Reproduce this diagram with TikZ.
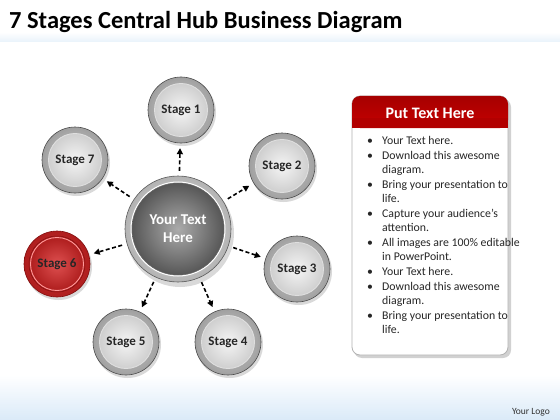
\documentclass[tikz,border=0pt]{standalone}
\usepackage{fontspec}
\setmainfont{Carlito}
\usetikzlibrary{arrows.meta,shadows}
\definecolor{bandblue}{RGB}{218,234,248}
\definecolor{redA}{RGB}{222,80,80}
\definecolor{redB}{RGB}{175,30,30}
\definecolor{redC}{RGB}{200,45,45}
\definecolor{redD}{RGB}{130,15,15}
\tikzset{
  stagenode/.style={circle,minimum size=66pt,inner sep=0pt,font=\bfseries\fontsize{13}{15}\selectfont,text=black!85},
  hubnode/.style={circle,minimum size=106pt,inner sep=0pt,align=center,font=\bfseries\fontsize{15}{18}\selectfont,text=white},
  conn/.style={line width=1.6pt,dash pattern=on 4pt off 2.5pt,-{Triangle[length=6pt,width=6pt]},shorten <=5pt,shorten >=5pt},
  bodytext/.style={font=\fontsize{11.8}{14.5}\selectfont,anchor=base west,inner sep=0pt,text=black!85},
  bulletdot/.style={font=\fontsize{11.8}{14.5}\selectfont,anchor=base,inner sep=0pt,text=black!85}
}
\newcommand\graystage[2]{%
  \fill[black!15] (#1)++(1.5,2.5) circle (33.5);
  \shade[inner color=gray!30,outer color=gray!75] (#1) circle (33);
  \draw[gray!60!black,line width=0.6pt] (#1) circle (33);
  \shade[inner color=gray!8,outer color=gray!38] (#1) circle (26.5);
  \draw[white!75!gray,line width=0.9pt] (#1) circle (26.5);
  \draw[gray!70,line width=0.5pt] (#1) circle (28);
  \node[stagenode] (#2) at (#1) {};
}
\newcommand\redstage[2]{%
  \fill[black!15] (#1)++(1.5,2.5) circle (33.5);
  \shade[inner color=redC,outer color=redB] (#1) circle (33);
  \draw[redD,line width=0.6pt] (#1) circle (33);
  \shade[inner color=redA,outer color=redB] (#1) circle (26.5);
  \draw[red!40!white,line width=0.9pt] (#1) circle (26.5);
  \draw[redD,line width=0.5pt] (#1) circle (28);
  \node[stagenode] (#2) at (#1) {};
}
\begin{document}
\begin{tikzpicture}[x=1pt,y=-1pt]
\useasboundingbox (0,0) rectangle (560,420);
\fill[white] (0,0) rectangle (560,420);
% faint bands
\shade[top color=white,bottom color=bandblue!60!white] (0,32) rectangle (560,42);
\shade[top color=white,bottom color=bandblue] (0,375) rectangle (560,420);
% title
\node[anchor=base west,inner sep=0pt,font=\bfseries\fontsize{24.5}{28}\selectfont] (title) at (9,29) {7 Stages Central Hub Business Diagram};
% hub
\fill[black!15] (180,233) circle (54);
\shade[inner color=gray!12,outer color=gray!60] (178,229) circle (53);
\draw[gray!70!black,line width=0.6pt] (178,229) circle (53);
\draw[white,line width=1pt] (178,229) circle (47);
\shade[inner color=black!33,outer color=black!66] (178,229) circle (46);
\draw[black!60,line width=0.4pt] (178,229) circle (46);
\node[hubnode] (hub) at (178,229) {Your Text\\Here};
% stages
\graystage{181,110}{s1}
\graystage{282,166}{s2}
\graystage{297,269}{s3}
\graystage{228,342}{s4}
\graystage{126,342}{s5}
\redstage{57,264}{s6}
\graystage{75,160}{s7}
\node[stagenode] at (s1) {Stage 1};
\node[stagenode] at (s2) {Stage 2};
\node[stagenode] at (s3) {Stage 3};
\node[stagenode] at (s4) {Stage 4};
\node[stagenode] at (s5) {Stage 5};
\node[stagenode] at (s6) {Stage 6};
\node[stagenode] at (s7) {Stage 7};
% connectors
\foreach \s in {s1,s2,s3,s4,s5,s6,s7}
  \draw[conn] (hub) -- (\s);
% panel
\fill[black!18] (354,99) [rounded corners=8pt] rectangle (511,358);
\draw[gray!60,fill=white,rounded corners=8pt,line width=0.8pt] (352,96) rectangle (508,355);
\shade[top color=red!65!black,bottom color=red!78!black,rounded corners=8pt] (352,96) -- (352,128) -- (508,128) -- (508,96) -- cycle;
\fill[red!70!black] (352,118) rectangle (508,128);
\node[font=\bfseries\fontsize{16}{19}\selectfont,text=white] (head) at (430,113) {Put Text Here};
% bullets
\foreach \y/\t in {144/{Your Text here.},159/{Download this awesome},188/{Bring your presentation to},217/{Capture your audience’s},246/{All images are 100\% editable},275/{Your Text here.},290/{Download this awesome},319/{Bring your presentation to}}
  {\node[bulletdot] at (370,\y) {•};
   \node[bodytext] at (382,\y) {\t};}
\foreach \y/\t in {173/{diagram.},202/{life.},231/{attention.},260/{in PowerPoint.},304/{diagram.},333/{life.}}
  \node[bodytext] at (382,\y) {\t};
% logo
\node[anchor=base east,inner sep=0pt,font=\fontsize{9.5}{11}\selectfont,text=black!80] (logo) at (550,414) {Your Logo};
\end{tikzpicture}
\end{document}
